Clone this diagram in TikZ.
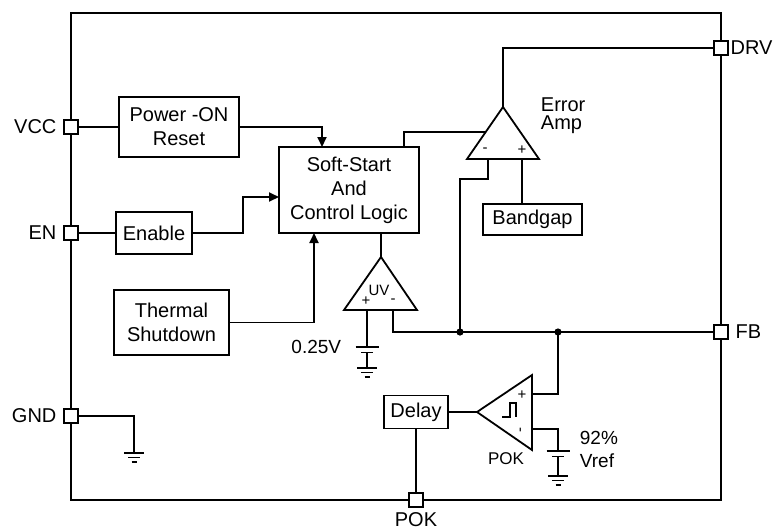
\documentclass[tikz,border=0pt]{standalone}
\usepackage{fontspec}
\setmainfont{Liberation Sans}
\usetikzlibrary{positioning,arrows.meta}
\tikzstyle{block} = [align=center,draw,outer sep=0,inner sep=1,line width=0.9pt]
\tikzstyle{pinbox} = [draw,fill=white,outer sep=0,inner sep=0,minimum size=7pt,line width=0.9pt]
\tikzstyle{arrow} = [-{Stealth[inset=0pt,length=5pt,width=4.5pt]}]
\tikzstyle{sign} = [font=\fontsize{7.5}{8}\selectfont,inner sep=0]
\tikzset{earth/.pic={\draw (-10,0) -- (10,0) (-6,4.5) -- (6,4.5) (-2.5,9) -- (2.5,9);}}
\tikzset{cell/.pic={\draw (-11.5,0) -- (11.5,0) (-6,5.5) -- (6,5.5);}}

\begin{document}
\begin{tikzpicture}[x=0.5pt,y=-0.5pt,line width=0.9pt]
    \useasboundingbox (0,0) rectangle (774,531);
    \draw (71,13) rectangle (721,500);
    % pins
    \node [pinbox,label=left:VCC] (vcc) at (71,127) {};
    \node [pinbox,label=left:EN] (enp) at (71,233) {};
    \node [pinbox,label=left:GND] (gnd) at (71,416) {};
    \node [pinbox,label={[label distance=-2.5pt]right:DRV}] (drv) at (721,48) {};
    \node [pinbox,label=right:FB] (fb) at (721,332) {};
    \node [pinbox,label={[label distance=-1pt]below:POK}] (pok) at (416,500) {};
    % blocks
    \node [block,minimum width=60pt,minimum height=30pt] (por) at (179,127) {Power -ON\\Reset};
    \node [block,minimum width=70pt,minimum height=43pt] (ss) at (349,190) {Soft-Start\\And\\Control Logic};
    \node [block,minimum width=38pt,minimum height=21pt] (en) at (154,233) {Enable};
    \node [block,minimum width=57.5pt,minimum height=32.5pt] (tsd) at (171.5,322.5) {Thermal\\Shutdown};
    \node [block,minimum width=49.5pt,minimum height=15.5pt] (bg) at (532.5,219.5) {Bandgap};
    \node [block,minimum width=32pt,minimum height=16.5pt] (dly) at (416,412) {Delay};
    % inputs of the logic
    \draw (vcc) -- (por);
    \draw [arrow] (por.east) -| ([xshift=-13.5pt]ss.north);
    \draw (enp) -- (en);
    \draw [arrow] (en.east) -- (243,233) |- ([yshift=-3.5pt]ss.west);
    \draw [arrow] (tsd.east) -| ([xshift=-17.5pt]ss.south);
    % error amp
    \coordinate (eatop) at (503,107);
    \coordinate (eam) at (488,159);
    \coordinate (eap) at (522,159);
    \coordinate (eas) at (485.5,132);
    \draw (eatop) -- (539,159) -- (467,159) -- cycle;
    \node [sign] at (485,150) {-};
    \node [sign] at (522,150) {+};
    \node [align=left,anchor=west,inner sep=1pt,font=\fontsize{10}{9}\selectfont] (ealabel) at (538,116) {Error\\Amp};
    \draw (eatop) |- (drv);
    \draw (eap) -- (eap |- bg.north);
    \draw ([xshift=27.5pt]ss.north) |- (eas);
    % UV comparator
    \coordinate (uvtop) at (381,257);
    \coordinate (uvp) at (367,310);
    \coordinate (uvm) at (393,310);
    \draw (uvtop) -- (417,310) -- (344,310) -- cycle;
    \node [sign] at (379,290) {UV};
    \node [sign] at (366,301) {+};
    \node [sign] at (393,301) {-};
    \draw (ss.south -| uvtop) -- (uvtop);
    \coordinate (uvbat) at (367,347);
    \draw (uvp) -- (uvbat);
    \pic at (uvbat) {cell};
    \draw (367,352.5) -- (367,368);
    \pic at (367,368) {earth};
    \node [anchor=east,inner sep=1pt,font=\fontsize{9.5}{11}\selectfont] (uvref) at (344,347) {0.25V};
    % feedback line
    \coordinate (j1) at (460,332);
    \coordinate (j2) at (558,332);
    \draw (uvm) |- (fb);
    \draw (eam) -- (488,179) -| (j1);
    \fill (j1) circle (1.8pt);
    \fill (j2) circle (1.8pt);
    % POK comparator
    \coordinate (pktip) at (477,412);
    \coordinate (pkp) at (532,394);
    \coordinate (pkm) at (532,429);
    \draw (pktip) -- (532,375) -- (532,450) -- cycle;
    \node [sign] at (522,395) {+};
    \node [sign,rotate=90] at (522,430) {-};
    \draw [line width=0.7pt] (502,417) -- (510,417) -- (510,403) -- (516,403) -- (516,417);
    \node [font=\fontsize{8.5}{9}\selectfont] (pklabel) at (506,459) {POK};
    \draw (pkp) -| (j2);
    \coordinate (pkbat) at (558,451);
    \draw (pkm) -| (pkbat);
    \pic at (pkbat) {cell};
    \draw (558,456.5) -- (558,476);
    \pic at (558,476) {earth};
    \node [align=left,anchor=west,inner sep=1pt,font=\fontsize{9.5}{11.5}\selectfont] (pkref) at (577,449.5) {92\%\\Vref};
    \draw (dly) -- (pktip);
    \draw (dly) -- (pok);
    % ground pin
    \draw (gnd.east) -| (134,453);
    \pic at (134,453) {earth};
\end{tikzpicture}
\end{document}
